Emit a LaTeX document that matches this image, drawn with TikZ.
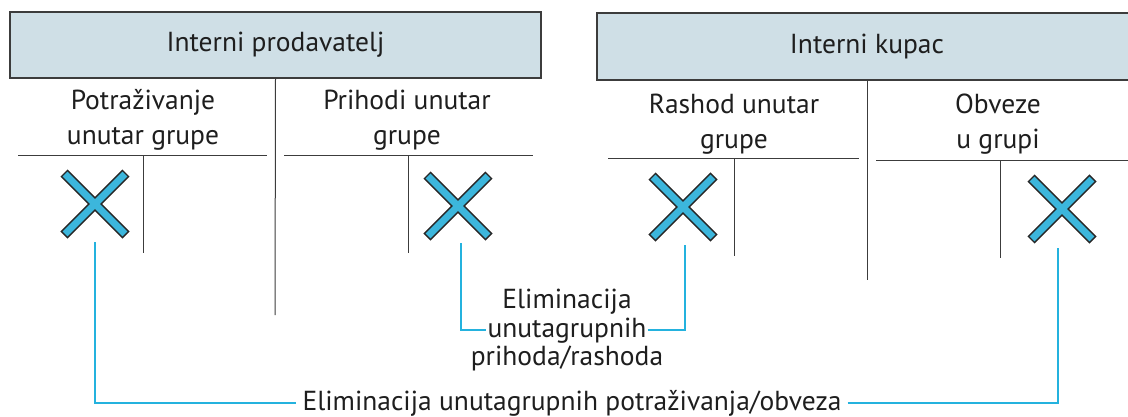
\documentclass[tikz,border=0pt]{standalone}
\usepackage{fontspec}
\setmainfont{PT Sans}
\usetikzlibrary{positioning}

\definecolor{hdrfill}{RGB}{207,223,230}
\definecolor{rulegray}{RGB}{60,60,60}
\definecolor{xblue}{RGB}{60,182,220}
\definecolor{linkblue}{RGB}{36,178,222}
\definecolor{inkgray}{RGB}{30,30,30}

\tikzset{
    hdr/.style={draw=rulegray, line width=1.4pt, fill=hdrfill, inner sep=0pt, text=inkgray, font=\fontsize{27.5}{30}\selectfont},
    lab/.style={align=center, inner sep=0pt, text=inkgray, font=\fontsize{27.5}{35}\selectfont},
    elim/.style={inner ysep=0pt, inner xsep=1pt, text height=20pt, text depth=6pt, text=inkgray, font=\fontsize{27.5}{30}\selectfont},
    rulel/.style={rulegray, line width=1pt},
    xedge/.style={black!85, line width=10pt},
    xcore/.style={xblue, line width=7pt, shorten <=1.5pt, shorten >=1.5pt},
    link/.style={linkblue, line width=2.2pt}
}

\begin{document}
\begin{tikzpicture}[x=1pt, y=-1pt]
                            \useasboundingbox (0,0) rectangle (1128,416);

                            \node (hdrProd)[hdr, minimum width=531pt, minimum height=66pt] at (275.5,45) {Interni prodavatelj};
                            \node (hdrKup)[hdr, minimum width=540pt, minimum height=67pt] at (867,46.5) {Interni kupac};

                            \node (labPot)[lab] at (143,120) {Potraživanje\\unutar grupe};
                            \node (labPri)[lab] at (407,120) {Prihodi unutar\\grupe};
                            \node (labRas)[lab] at (734,124) {Rashod unutar\\grupe};
                            \node (labObv)[lab] at (998,124) {Obveze\\u grupi};

                            \coordinate (stemProd) at (275,315);
                            \coordinate (stemKup) at (867,280);
                            \coordinate (tPotL) at (18,155);
                            \coordinate (tPotR) at (267,155);
                            \coordinate (tPotS) at (143,253);
                            \coordinate (tPriL) at (284,155);
                            \coordinate (tPriR) at (533,155);
                            \coordinate (tPriS) at (408,253);
                            \coordinate (tRasL) at (608,158);
                            \coordinate (tRasR) at (859,158);
                            \coordinate (tRasS) at (734,256);
                            \coordinate (tObvL) at (876,160);
                            \coordinate (tObvR) at (1128,160);
                            \coordinate (tObvS) at (1000,258);

                            \draw[rulel] (hdrProd.south) -- (stemProd);
                            \draw[rulel] (hdrKup.south) -- (stemKup);
                            \draw[rulel] (tPotL) -- (tPotR);
                            \draw[rulel] (tPotS |- tPotL) -- (tPotS);
                            \draw[rulel] (tPriL) -- (tPriR);
                            \draw[rulel] (tPriS |- tPriL) -- (tPriS);
                            \draw[rulel] (tRasL) -- (tRasR);
                            \draw[rulel] (tRasS |- tRasL) -- (tRasS);
                            \draw[rulel] (tObvL) -- (tObvR);
                            \draw[rulel] (tObvS |- tObvL) -- (tObvS);

                            \coordinate (xPot) at (95,204);
                            \coordinate (xPri) at (458,206);
                            \coordinate (xRas) at (683,207);
                            \coordinate (xObv) at (1062,209);

                            \draw[xedge] (xPot) ++(-31,-31) -- ++(62,62) (xPot) ++(-31,31) -- ++(62,-62);
                            \draw[xcore] (xPot) ++(-31,-31) -- ++(62,62);
                            \draw[xcore] (xPot) ++(-31,31) -- ++(62,-62);
                            \draw[xedge] (xPri) ++(-31,-31) -- ++(62,62) (xPri) ++(-31,31) -- ++(62,-62);
                            \draw[xcore] (xPri) ++(-31,-31) -- ++(62,62);
                            \draw[xcore] (xPri) ++(-31,31) -- ++(62,-62);
                            \draw[xedge] (xRas) ++(-31,-31) -- ++(62,62) (xRas) ++(-31,31) -- ++(62,-62);
                            \draw[xcore] (xRas) ++(-31,-31) -- ++(62,62);
                            \draw[xcore] (xRas) ++(-31,31) -- ++(62,-62);
                            \draw[xedge] (xObv) ++(-31,-31) -- ++(62,62) (xObv) ++(-31,31) -- ++(62,-62);
                            \draw[xcore] (xObv) ++(-31,-31) -- ++(62,62);
                            \draw[xcore] (xObv) ++(-31,31) -- ++(62,-62);

                            \node (labMid)[elim] at (567,330) {unutagrupnih};
                            \node (labMidTop)[elim, above=2pt of labMid] {Eliminacija};
                            \node (labMidBot)[elim, below=2pt of labMid] {prihoda/rashoda};
                            \node (labBot)[elim, inner xsep=6pt] at (572,403) {Eliminacija unutagrupnih potraživanja/obveza};

                            \coordinate (xPotS) at (95,242);
                            \coordinate (xPriS) at (461,243);
                            \coordinate (xRasS) at (685,245);
                            \coordinate (xObvS) at (1058,248);

                            \draw[link] (xPriS) |- (labMid.west);
                            \draw[link] (labMid.east) -| (xRasS);
                            \draw[link] (xPotS) |- (labBot.west);
                            \draw[link] (labBot.east) -| (xObvS);

                        \end{tikzpicture}
\end{document}
